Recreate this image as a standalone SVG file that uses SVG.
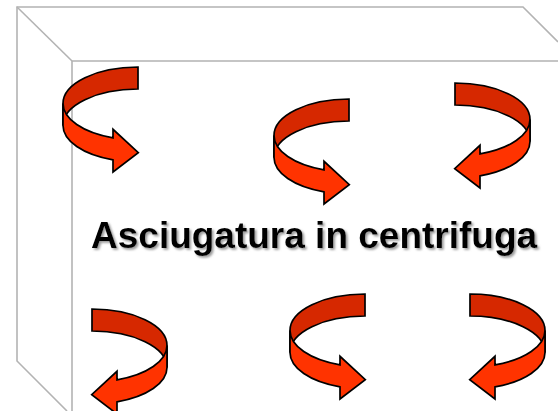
<svg xmlns="http://www.w3.org/2000/svg" width="558" height="411" viewBox="0 0 558 411">
  <style>
    .edge { fill: none; stroke: #B3B3B3; stroke-width: 1.6; }
    .back { fill: #D62800; stroke: #000; stroke-width: 1.7; stroke-linejoin: miter; }
    .front { fill: #FF3300; stroke: #000; stroke-width: 1.7; stroke-linejoin: miter; }
    .title { font-family: "Liberation Sans", Arial, sans-serif; font-weight: bold; font-size: 37px; fill: #000000; }
  </style>
  <defs>
    <filter id="shadow" x="-5%" y="-30%" width="110%" height="160%">
      <feDropShadow dx="1.8" dy="1.8" stdDeviation="0.9" flood-color="#808080" flood-opacity="0.8"/>
    </filter>
    <g id="spin">
      <path class="back" d="M0,0 A75,36.5 0 0 0 -75,36.5 L-75,58.5 A75,36.5 0 0 1 0,22 Z"/>
      <path class="front" d="M-75,36.5 A75,36.5 0 0 0 -25,70.9 L-25,62.3 L0.3,85.7 L-25,105 L-25,92.9 A75,36.5 0 0 1 -75,58.5 Z"/>
    </g>
  </defs>
  <rect width="558" height="411" fill="#FFFFFF"/>
  <g id="box">
    <path class="edge" d="M67,411 L17,361 L17,7 L523,7 L558,42"/>
    <path class="edge" d="M17,7 L72,61"/>
    <path class="edge" d="M72,411 L72,61 L558,61"/>
  </g>
  <g id="arrow1"><use href="#spin" transform="translate(138,67)"/></g>
  <g id="arrow2"><use href="#spin" transform="translate(349,99)"/></g>
  <g id="arrow3"><use href="#spin" transform="translate(455,83) scale(-1,1)"/></g>
  <g id="arrow4"><use href="#spin" transform="translate(92,309) scale(-1,1)"/></g>
  <g id="arrow5"><use href="#spin" transform="translate(365,294)"/></g>
  <g id="arrow6"><use href="#spin" transform="translate(470,294) scale(-1,1)"/></g>
  <g id="label">
    <text class="title" x="91" y="248" filter="url(#shadow)">Asciugatura in centrifuga</text>
  </g>
</svg>
